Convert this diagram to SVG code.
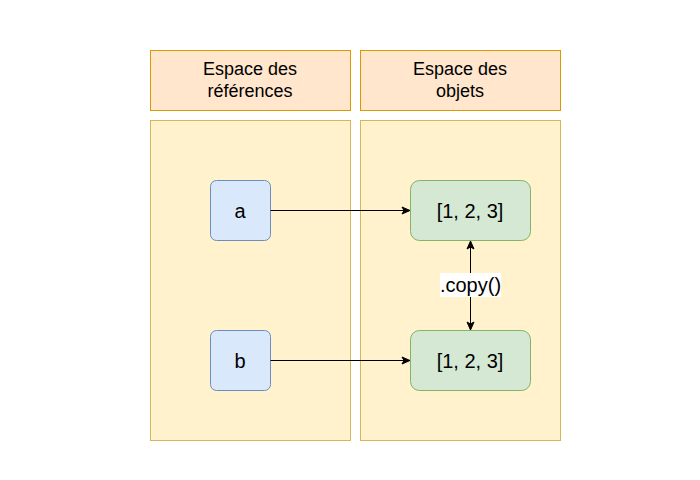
<svg xmlns="http://www.w3.org/2000/svg" width="700" height="480" viewBox="0 0 700 480">
<style>
text{font-family:"Liberation Sans",Arial,sans-serif;fill:#000;text-anchor:middle}
.hdr{fill:#ffe6cc;stroke:#d79b00;stroke-width:1}
.pnl{fill:#fff2cc;stroke:#d6b656;stroke-width:1}
.ref{fill:#dae8fc;stroke:#6c8ebf;stroke-width:1}
.obj{fill:#d5e8d4;stroke:#82b366;stroke-width:1}
.edge{fill:none;stroke:#000;stroke-width:1}
</style>
<defs>
<marker id="arr" viewBox="0 0 10 10" refX="9" refY="5" markerWidth="10" markerHeight="10" markerUnits="userSpaceOnUse" orient="auto-start-reverse">
<path d="M1,1.5 L9,5 L1,8.5 L3,5 Z" fill="#000" stroke="#000" stroke-width="1"/>
</marker>
</defs>
<rect width="700" height="480" fill="#fff"/>
<g id="header-refs"><rect class="hdr" x="150.5" y="50.5" width="200" height="60"/><text x="250" y="75" font-size="18">Espace des</text><text x="250" y="97" font-size="18">références</text></g>
<g id="header-objs"><rect class="hdr" x="360.5" y="50.5" width="200" height="60"/><text x="460" y="75" font-size="18">Espace des</text><text x="460" y="97" font-size="18">objets</text></g>
<g id="panel-refs"><rect class="pnl" x="150.5" y="120.5" width="200" height="320"/></g>
<g id="panel-objs"><rect class="pnl" x="360.5" y="120.5" width="200" height="320"/></g>
<g id="node-a"><rect class="ref" x="210.5" y="180.5" width="60" height="60" rx="6"/><text x="240" y="218" font-size="20">a</text></g>
<g id="node-b"><rect class="ref" x="210.5" y="330.5" width="60" height="60" rx="6"/><text x="240" y="368" font-size="20">b</text></g>
<g id="obj1"><rect class="obj" x="410.5" y="180.5" width="120" height="60" rx="9"/><text x="470" y="218" font-size="20">[1, 2, 3]</text></g>
<g id="obj2"><rect class="obj" x="410.5" y="330.5" width="120" height="60" rx="9"/><text x="470" y="368" font-size="20">[1, 2, 3]</text></g>
<g id="connectors">
<path class="edge" d="M270.5,210.5 L410,210.5" marker-end="url(#arr)"/>
<path class="edge" d="M270.5,360.5 L410,360.5" marker-end="url(#arr)"/>
<path class="edge" d="M470.5,241 L470.5,330" marker-start="url(#arr)" marker-end="url(#arr)"/>
<rect x="440" y="273" width="61" height="24" fill="#fff"/>
<text x="470.5" y="292" font-size="20">.copy()</text>
</g>
</svg>
